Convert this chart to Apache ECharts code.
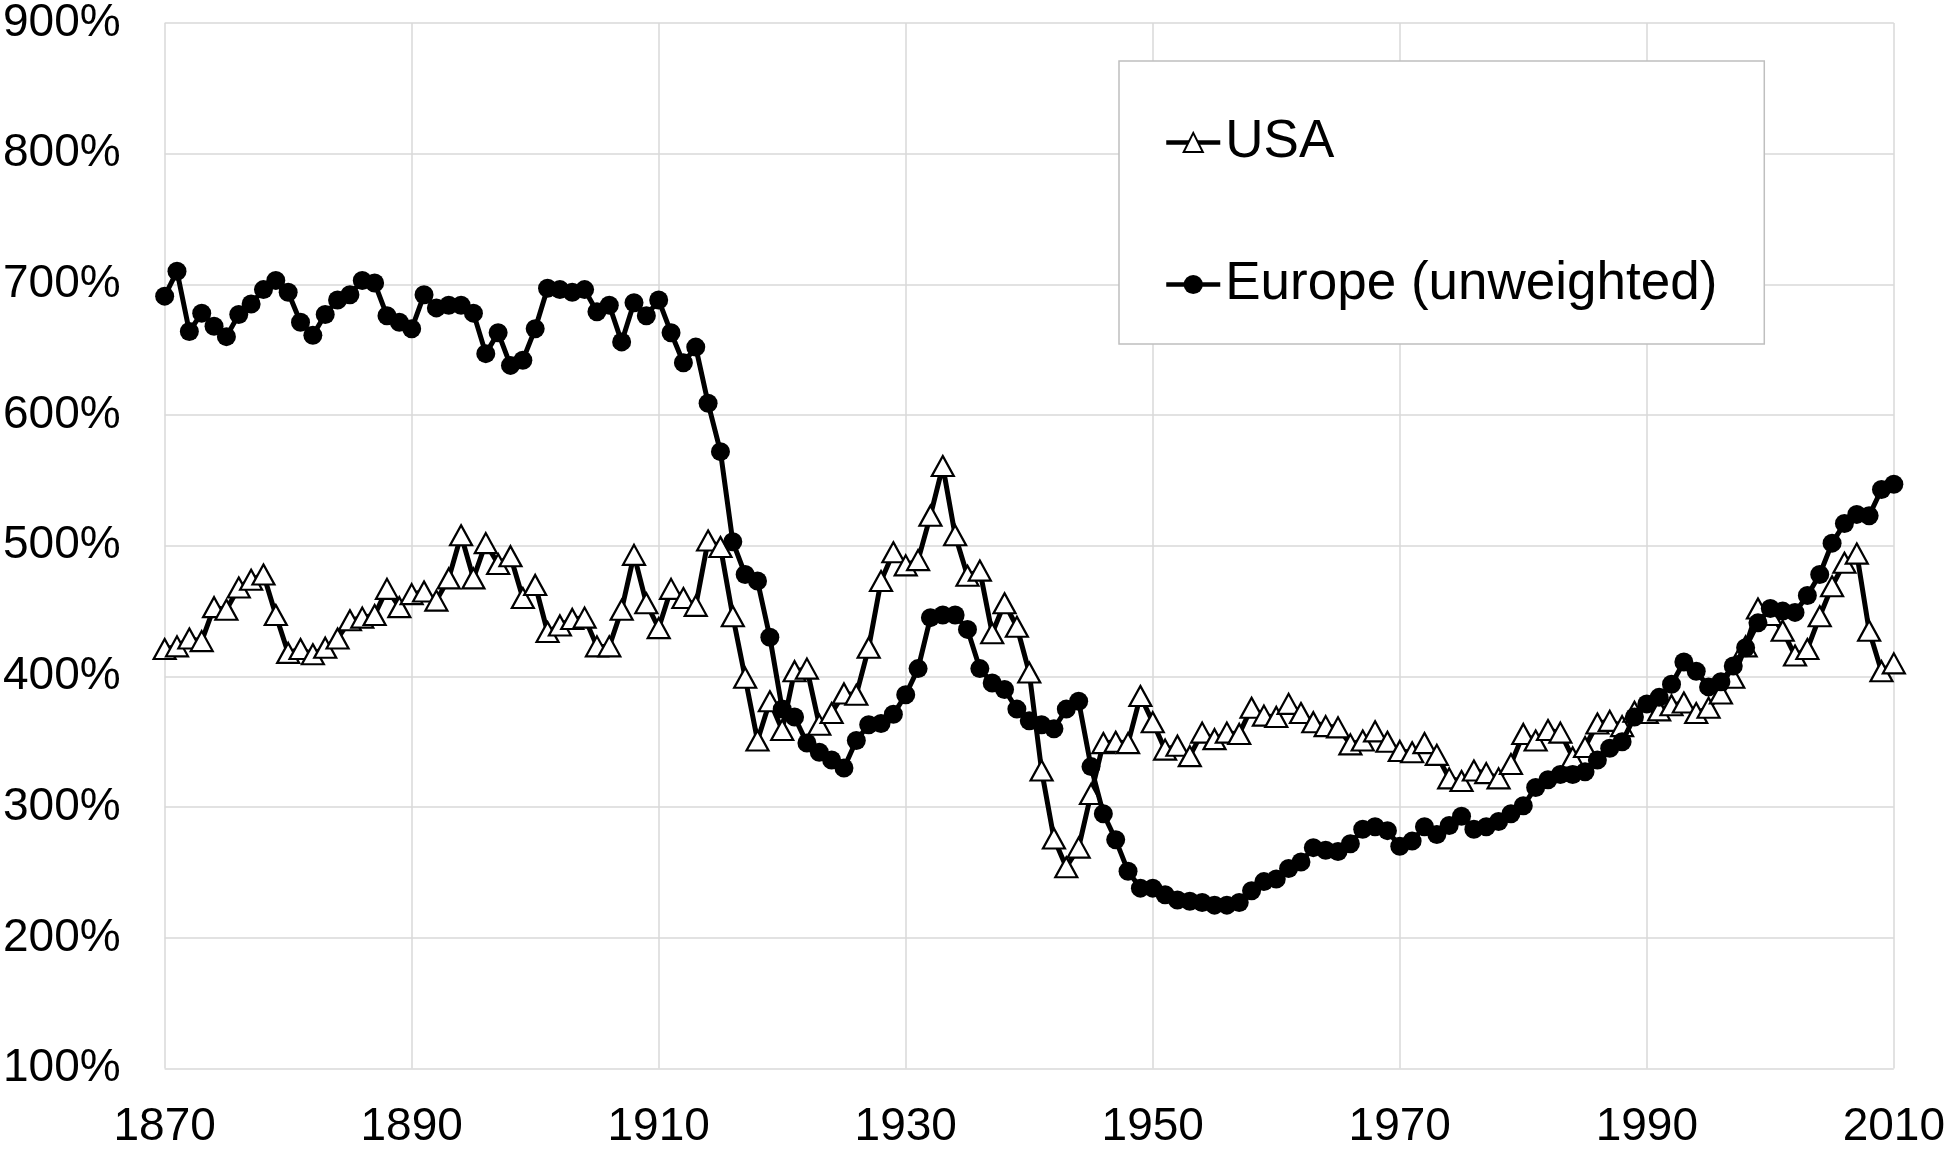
<!DOCTYPE html>
<html>
<head>
<meta charset="utf-8">
<style>
html,body{margin:0;padding:0;background:#fff;}
#chart{width:1948px;height:1153px;}
</style>
<script src="https://cdn.jsdelivr.net/npm/echarts@6/dist/echarts.min.js"></script>
</head>
<body>
<div id="chart"></div>
<script>
const years = [
1870,1871,1872,1873,1874,1875,1876,1877,1878,1879,
1880,1881,1882,1883,1884,1885,1886,1887,1888,1889,
1890,1891,1892,1893,1894,1895,1896,1897,1898,1899,
1900,1901,1902,1903,1904,1905,1906,1907,1908,1909,
1910,1911,1912,1913,1914,1915,1916,1917,1918,1919,
1920,1921,1922,1923,1924,1925,1926,1927,1928,1929,
1930,1931,1932,1933,1934,1935,1936,1937,1938,1939,
1940,1941,1942,1943,1944,1945,1946,1947,1948,1949,
1950,1951,1952,1953,1954,1955,1956,1957,1958,1959,
1960,1961,1962,1963,1964,1965,1966,1967,1968,1969,
1970,1971,1972,1973,1974,1975,1976,1977,1978,1979,
1980,1981,1982,1983,1984,1985,1986,1987,1988,1989,
1990,1991,1992,1993,1994,1995,1996,1997,1998,1999,
2000,2001,2002,2003,2004,2005,2006,2007,2008,2009,
2010];

const usa = [
421,423,429,427,453,451,468,474,478,447,
418,421,417,422,429,443,445,447,467,453,
463,465,458,475,508,475,502,486,492,460,
470,434,439,444,445,423,423,451,493,456,
437,467,460,454,504,499,446,399,351,381,
359,404,406,363,372,387,386,422,473,495,
485,489,523,561,508,477,481,433,456,438,
403,328,276,254,269,310,349,350,349,385,
365,344,347,339,357,352,357,356,376,370,
369,379,372,365,362,361,348,351,358,350,
343,342,349,340,322,320,328,326,322,333,
356,351,359,357,338,346,364,366,362,373,
372,374,378,380,372,376,387,399,423,452,
447,435,416,421,446,469,487,494,435,404,
410];

const europe = [
691,710,664,678,668,660,677,685,696,703,
694,671,661,677,688,692,703,701,676,671,
666,692,682,684,684,678,647,663,638,642,
666,697,696,694,696,679,684,656,686,676,
688,663,640,652,609,572,503,478,473,430,
375,369,349,342,336,330,351,363,364,371,
386,406,445,447,447,436,406,395,390,375,
366,363,360,375,381,331,295,275,251,238,
238,233,229,228,227,225,225,227,236,243,
245,253,258,269,267,266,272,283,285,282,
270,274,285,279,286,293,283,285,289,295,
301,315,321,325,325,327,336,345,350,369,
379,384,394,411,404,392,396,408,422,441,
452,450,449,462,478,502,517,524,523,543,
547];

const seriesNames = ['USA', 'Europe (unweighted)'];

function pairs(vals){ return years.map((y,i)=>[y, vals[i]]); }

const font = "'Liberation Sans', Arial, sans-serif";
const chart = echarts.init(document.getElementById('chart'));
chart.setOption({
  animation: false,
  backgroundColor: '#fff',
  grid: { left: 164, right: 53, top: 19.5, bottom: 84.5, containLabel: false },
  xAxis: {
    type: 'value', min: 1870, max: 2010, interval: 20,
    axisLine: { show: false }, axisTick: { show: false },
    splitLine: { show: true, lineStyle: { color: '#d9d9d9', width: 1.5 } },
    axisLabel: { fontSize: 46, color: '#000', fontFamily: font, margin: 36, formatter: v => String(v) }
  },
  yAxis: {
    type: 'value', min: 100, max: 900, interval: 100,
    axisLine: { show: false }, axisTick: { show: false },
    splitLine: { show: true, lineStyle: { color: '#d9d9d9', width: 1.5 } },
    axisLabel: { fontSize: 46, color: '#000', fontFamily: font, margin: 44, formatter: '{value}%' }
  },
  legend: {
    orient: 'vertical', left: 1119, top: 61,
    backgroundColor: '#fff',
    borderColor: '#bfbfbf', borderWidth: 1.5,
    padding: [55, 47, 33, 45],
    itemGap: 89, itemWidth: 54, itemHeight: 24,
    lineStyle: { width: 4.5 },
    textStyle: { fontSize: 53, color: '#000', fontFamily: font },
    data: seriesNames
  },
  series: [
    {
      name: seriesNames[0], type: 'line', data: pairs(usa),
      symbol: 'triangle', symbolSize: [22, 20], showAllSymbol: true,
      itemStyle: { color: '#fff', borderColor: '#000', borderWidth: 2.2 },
      lineStyle: { color: '#000', width: 5 },
      z: 2
    },
    {
      name: seriesNames[1], type: 'line', data: pairs(europe),
      symbol: 'circle', symbolSize: 19, showAllSymbol: true,
      itemStyle: { color: '#000' },
      lineStyle: { color: '#000', width: 5 },
      z: 3
    }
  ]
});
</script>
</body>
</html>
